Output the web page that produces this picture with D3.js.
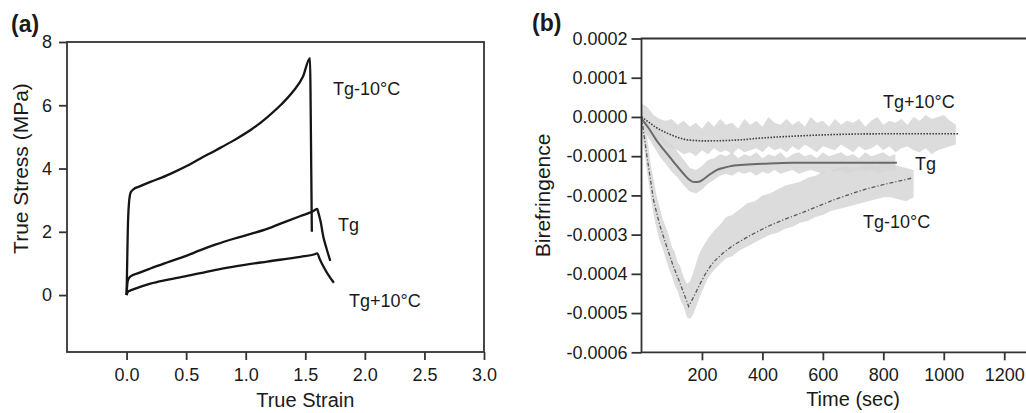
<!DOCTYPE html>
<html>
<head>
<meta charset="utf-8">
<script src="https://cdnjs.cloudflare.com/ajax/libs/d3/7.8.5/d3.min.js"></script>
<style>
  body { margin: 0; background: #fff; }
  svg text { font-family: Arial, 'Liberation Sans', sans-serif; fill: #1a1a1a; }
  .tick line { stroke: #333; stroke-width: 1.8; }
  .tick text { font-size: 18px; }
  .frame { fill: none; stroke: #333; stroke-width: 1.8; }
</style>
</head>
<body>
<div id="chart"></div>
<script>
//////////////////////////////////////////////////////////////
// Data
//////////////////////////////////////////////////////////////

// (a) true stress (MPa) vs true strain
var strainTicks = [0, 0.5, 1.0, 1.5, 2.0, 2.5, 3.0];
var stressTicks = [0, 2, 4, 6, 8];

var stressTgMinus10 = [[0,0],[0.005,1.0],[0.01,2.0],[0.02,2.9],[0.035,3.25],[0.06,3.35],[0.1,3.42],[0.2,3.58],
  [0.3,3.72],[0.39,3.87],[0.5,4.07],[0.62,4.32],[0.75,4.58],[0.9,4.89],[1.05,5.24],[1.18,5.62],[1.3,6.03],
  [1.4,6.45],[1.48,6.9],[1.54,7.49],[1.545,6.0],[1.55,4.0],[1.555,2.0]];
var stressTg = [[0,0],[0.005,0.3],[0.01,0.45],[0.03,0.58],[0.11,0.71],[0.2,0.84],[0.34,1.03],[0.5,1.24],
  [0.62,1.42],[0.75,1.6],[0.9,1.78],[1.05,1.94],[1.18,2.09],[1.32,2.3],[1.46,2.5],[1.56,2.64],[1.6,2.72],
  [1.61,2.6],[1.63,2.3],[1.65,1.87],[1.68,1.45],[1.71,1.08]];
var stressTgPlus10 = [[0,0],[0.01,0.1],[0.03,0.14],[0.05,0.17],[0.2,0.36],[0.34,0.48],[0.5,0.6],[0.62,0.69],
  [0.75,0.8],[0.9,0.9],[1.18,1.06],[1.46,1.21],[1.58,1.29],[1.6,1.32],[1.62,1.15],[1.65,0.92],[1.7,0.6],[1.74,0.39]];

// (b) birefringence (units of 1e-4) vs time (sec)
var timeTicks = [200, 400, 600, 800, 1000, 1200];
var biroTicks = [2, 1, 0, -1, -2, -3, -4, -5, -6];

// fitted curves [time, birefringence x1e-4]
var fitTgPlus10 = [[0,0],[25,-0.14],[49,-0.27],[70,-0.36],[93,-0.44],[120,-0.52],[148,-0.58],[175,-0.6],
  [203,-0.61],[260,-0.605],[313,-0.59],[401,-0.535],[503,-0.49],[630,-0.45],[789,-0.43],[1047,-0.43]];
var fitTg = [[0,-0.05],[25,-0.3],[49,-0.59],[70,-0.8],[93,-1.02],[115,-1.23],[137,-1.43],[158,-1.6],
  [176,-1.66],[190,-1.65],[203,-1.6],[225,-1.47],[247,-1.36],[270,-1.3],[291,-1.26],[340,-1.22],
  [413,-1.19],[500,-1.17],[845,-1.17]];
var fitTgMinus10 = [[0,0],[9,-0.5],[18,-1.0],[40,-2.13],[60,-2.75],[84,-3.32],[105,-3.8],[128,-4.25],
  [145,-4.6],[156,-4.83],[175,-4.55],[194,-4.25],[215,-3.95],[238,-3.7],[270,-3.47],[304,-3.27],
  [360,-3.02],[415,-2.8],[470,-2.62],[525,-2.46],[580,-2.29],[634,-2.12],[690,-1.97],[745,-1.83],
  [820,-1.69],[894,-1.56]];

// raw measurement scatter, drawn as a band (low / high edges)
var rawTimeTgPlus10 = [0,20,40,60,80,100,120,140,160,180,200,220,240,260,280,300,320,340,360,380,400,
  420,440,460,480,500,520,540,560,580,600,620,640,660,680,700,720,740,760,780,800,820,840,860,880,900,
  920,940,960,980,1000,1020,1040];
var rawHiTgPlus10 = [0.35,0.25,0.05,-0.05,-0.1,-0.05,-0.2,-0.1,-0.25,-0.15,-0.3,-0.1,-0.25,-0.05,-0.2,
  -0.15,-0.3,-0.05,-0.2,-0.1,-0.25,0.0,-0.15,-0.2,-0.05,-0.2,-0.1,-0.25,0.0,-0.15,-0.1,-0.25,-0.05,-0.2,
  -0.1,-0.15,-0.05,-0.25,-0.1,0.0,-0.2,-0.1,-0.15,-0.05,-0.2,0.0,-0.1,0.05,-0.05,0.0,0.05,-0.1,-0.2];
var rawLoTgPlus10 = [-0.25,-0.4,-0.55,-0.6,-0.75,-0.8,-0.85,-0.95,-0.9,-1.0,-0.85,-0.95,-0.8,-0.9,-0.85,
  -0.95,-0.8,-0.9,-0.85,-0.8,-0.9,-0.75,-0.85,-0.8,-0.9,-0.75,-0.85,-0.7,-0.8,-0.9,-0.75,-0.8,-0.85,-0.7,
  -0.8,-0.9,-0.75,-0.85,-0.8,-0.7,-0.85,-0.75,-0.9,-0.8,-0.75,-0.85,-0.9,-0.8,-0.95,-0.85,-0.8,-0.75,-0.7];

var rawTimeTg = [0,20,40,60,80,100,120,140,160,180,200,220,240,260,280,300,320,340,360,380,400,420,440,
  460,480,500,520,540,560,580,600,620,640,660,680,700,720,740,760,780,800,820,840];
var rawHiTg = [0.0,-0.1,-0.25,-0.35,-0.6,-0.7,-0.9,-1.1,-1.3,-1.35,-1.25,-1.1,-1.05,-0.95,-1.0,-0.9,-1.05,
  -0.95,-1.0,-0.9,-1.05,-0.95,-1.0,-0.9,-1.05,-0.95,-0.9,-1.0,-0.95,-1.05,-0.9,-1.0,-0.95,-0.9,-1.0,-0.95,
  -1.05,-0.9,-1.0,-0.95,-0.9,-1.0,-0.95];
var rawLoTg = [-0.3,-0.5,-0.75,-1.0,-1.2,-1.4,-1.55,-1.75,-1.9,-1.95,-1.85,-1.7,-1.6,-1.5,-1.45,-1.5,-1.4,
  -1.45,-1.4,-1.5,-1.4,-1.45,-1.35,-1.45,-1.4,-1.35,-1.45,-1.4,-1.35,-1.4,-1.45,-1.35,-1.4,-1.35,-1.45,-1.4,
  -1.35,-1.4,-1.35,-1.45,-1.4,-1.35,-1.4];

var rawTimeTgMinus10 = [0,10,20,30,40,50,60,70,80,90,100,110,120,130,140,150,160,170,180,190,200,220,240,
  260,280,300,325,350,375,400,425,450,475,500,525,550,575,600,625,650,675,700,725,750,775,800,825,850,875,900];
var rawHiTgMinus10 = [0.3,-0.1,-0.6,-1.2,-1.6,-2.0,-2.3,-2.6,-2.8,-3.0,-3.3,-3.45,-3.7,-3.85,-4.1,-4.25,-4.2,
  -4.0,-3.75,-3.5,-3.35,-3.1,-2.9,-2.75,-2.55,-2.5,-2.35,-2.2,-2.15,-2.0,-1.95,-1.85,-1.75,-1.7,-1.65,-1.55,
  -1.5,-1.4,-1.35,-1.3,-1.25,-1.3,-1.25,-1.2,-1.25,-1.15,-1.2,-1.25,-1.3,-1.35];
var rawLoTgMinus10 = [-0.3,-0.9,-1.5,-2.0,-2.5,-2.85,-3.15,-3.35,-3.6,-3.85,-4.05,-4.3,-4.45,-4.7,-4.85,-5.1,
  -5.15,-5.05,-4.85,-4.65,-4.45,-4.1,-3.9,-3.75,-3.6,-3.55,-3.4,-3.3,-3.2,-3.1,-3.0,-2.95,-2.85,-2.8,-2.7,
  -2.65,-2.55,-2.5,-2.4,-2.35,-2.3,-2.25,-2.2,-2.15,-2.1,-2.05,-2.05,-2.1,-2.15,-2.05];

//////////////////////////////////////////////////////////////
// SVG
//////////////////////////////////////////////////////////////

var width = 1026, height = 413;
var svg = d3.select("#chart").append("svg")
  .attr("width", width)
  .attr("height", height);

//////////////////////////////////////////////////////////////
// Panel (a)
//////////////////////////////////////////////////////////////

var xA = d3.scaleLinear().domain([-0.5, 3.0]).range([67, 484]);
var yA = d3.scaleLinear().domain([-1.8, 8]).range([352, 42]);

var gA = svg.append("g");

gA.append("rect").attr("class", "frame")
  .attr("x", xA(-0.5)).attr("y", yA(8))
  .attr("width", xA(3) - xA(-0.5)).attr("height", yA(-1.8) - yA(8));

gA.append("g")
  .attr("transform", "translate(0," + yA(-1.8) + ")")
  .call(d3.axisBottom(xA).tickValues(strainTicks).tickFormat(d3.format(".1f")).tickSize(8).tickPadding(8))
  .call(function(g) { g.select(".domain").remove(); });

gA.append("g")
  .attr("transform", "translate(" + xA(-0.5) + ",0)")
  .call(d3.axisLeft(yA).tickValues(stressTicks).tickSize(8).tickPadding(7))
  .call(function(g) { g.select(".domain").remove(); });

var lineA = d3.line()
  .x(function(d) { return xA(d[0]); })
  .y(function(d) { return yA(d[1]); })
  .curve(d3.curveMonotoneX);

[stressTgMinus10, stressTg, stressTgPlus10].forEach(function(s) {
  gA.append("path").datum(s)
    .attr("d", lineA)
    .attr("fill", "none")
    .attr("stroke", "#151515")
    .attr("stroke-width", 2.3)
    .attr("stroke-linejoin", "round");
});

gA.append("text").attr("x", 333).attr("y", 95).style("font-size", "18px").text("Tg-10°C");
gA.append("text").attr("x", 338).attr("y", 231).style("font-size", "18px").text("Tg");
gA.append("text").attr("x", 349).attr("y", 307).style("font-size", "18px").text("Tg+10°C");

gA.append("text")
  .attr("x", (xA(0) + xA(3)) / 2).attr("y", 407)
  .attr("text-anchor", "middle").style("font-size", "20px")
  .text("True Strain");

gA.append("text")
  .attr("transform", "translate(28," + (yA(0) + yA(8)) / 2 + ") rotate(-90)")
  .attr("text-anchor", "middle").style("font-size", "21px")
  .text("True Stress (MPa)");

gA.append("text").attr("x", 11).attr("y", 32)
  .style("font-size", "23px").style("font-weight", "bold").text("(a)");

//////////////////////////////////////////////////////////////
// Panel (b)
//////////////////////////////////////////////////////////////

var xB = d3.scaleLinear().domain([0, 1272]).range([641.5, 1026]);
var yB = d3.scaleLinear().domain([-6, 2]).range([352.3, 38.5]);

var gB = svg.append("g");

// raw bands
var bands = [
  [rawTimeTgPlus10, rawLoTgPlus10, rawHiTgPlus10],
  [rawTimeTg, rawLoTg, rawHiTg],
  [rawTimeTgMinus10, rawLoTgMinus10, rawHiTgMinus10]
];
bands.forEach(function(b) {
  var pts = b[0].map(function(t, i) { return { t: t, lo: b[1][i], hi: b[2][i] }; });
  gB.append("path").datum(pts)
    .attr("d", d3.area()
      .x(function(d) { return xB(d.t); })
      .y0(function(d) { return yB(d.lo); })
      .y1(function(d) { return yB(d.hi); }))
    .attr("fill", "#d6d6d6")
    .attr("fill-opacity", 0.85);
});

var lineB = d3.line().x(function(d) { return xB(d[0]); }).y(function(d) { return yB(d[1]); });

gB.append("path").datum(fitTgPlus10)
  .attr("d", lineB.curve(d3.curveMonotoneX))
  .attr("fill", "none").attr("stroke", "#444").attr("stroke-width", 1.6)
  .attr("stroke-dasharray", "1.6,1.4");

gB.append("path").datum(fitTg)
  .attr("d", lineB.curve(d3.curveMonotoneX))
  .attr("fill", "none").attr("stroke", "#6a6a6a").attr("stroke-width", 2);

gB.append("path").datum(fitTgMinus10)
  .attr("d", lineB.curve(d3.curveLinear))
  .attr("fill", "none").attr("stroke", "#5a5a5a").attr("stroke-width", 1.3)
  .attr("stroke-dasharray", "4,2,1.2,2");

// frame: left, top, bottom (right side is cut off)
gB.append("path").attr("class", "frame")
  .attr("d", "M" + width + "," + yB(2) + "H" + xB(0) + "V" + yB(-6) + "H" + width);

gB.append("g")
  .attr("transform", "translate(0," + yB(-6) + ")")
  .call(d3.axisBottom(xB).tickValues(timeTicks).tickFormat(d3.format("d")).tickSize(8).tickPadding(8))
  .call(function(g) { g.select(".domain").remove(); });

gB.append("g")
  .attr("transform", "translate(" + xB(0) + ",0)")
  .call(d3.axisLeft(yB).tickValues(biroTicks).tickSize(10).tickPadding(4)
    .tickFormat(function(d) { return (d / 1e4).toFixed(4); }))
  .call(function(g) { g.select(".domain").remove(); });

gB.append("text").attr("x", 883).attr("y", 108).style("font-size", "18px").text("Tg+10°C");
gB.append("text").attr("x", 915).attr("y", 170).style("font-size", "18px").text("Tg");
gB.append("text").attr("x", 863).attr("y", 228).style("font-size", "18px").text("Tg-10°C");

gB.append("text")
  .attr("x", 853).attr("y", 406)
  .attr("text-anchor", "middle").style("font-size", "20px")
  .text("Time (sec)");

gB.append("text")
  .attr("transform", "translate(550," + (yB(2) + yB(-6)) / 2 + ") rotate(-90)")
  .attr("text-anchor", "middle").style("font-size", "21px")
  .text("Birefringence");

gB.append("text").attr("x", 532).attr("y", 31)
  .style("font-size", "23px").style("font-weight", "bold").text("(b)");
</script>
</body>
</html>
